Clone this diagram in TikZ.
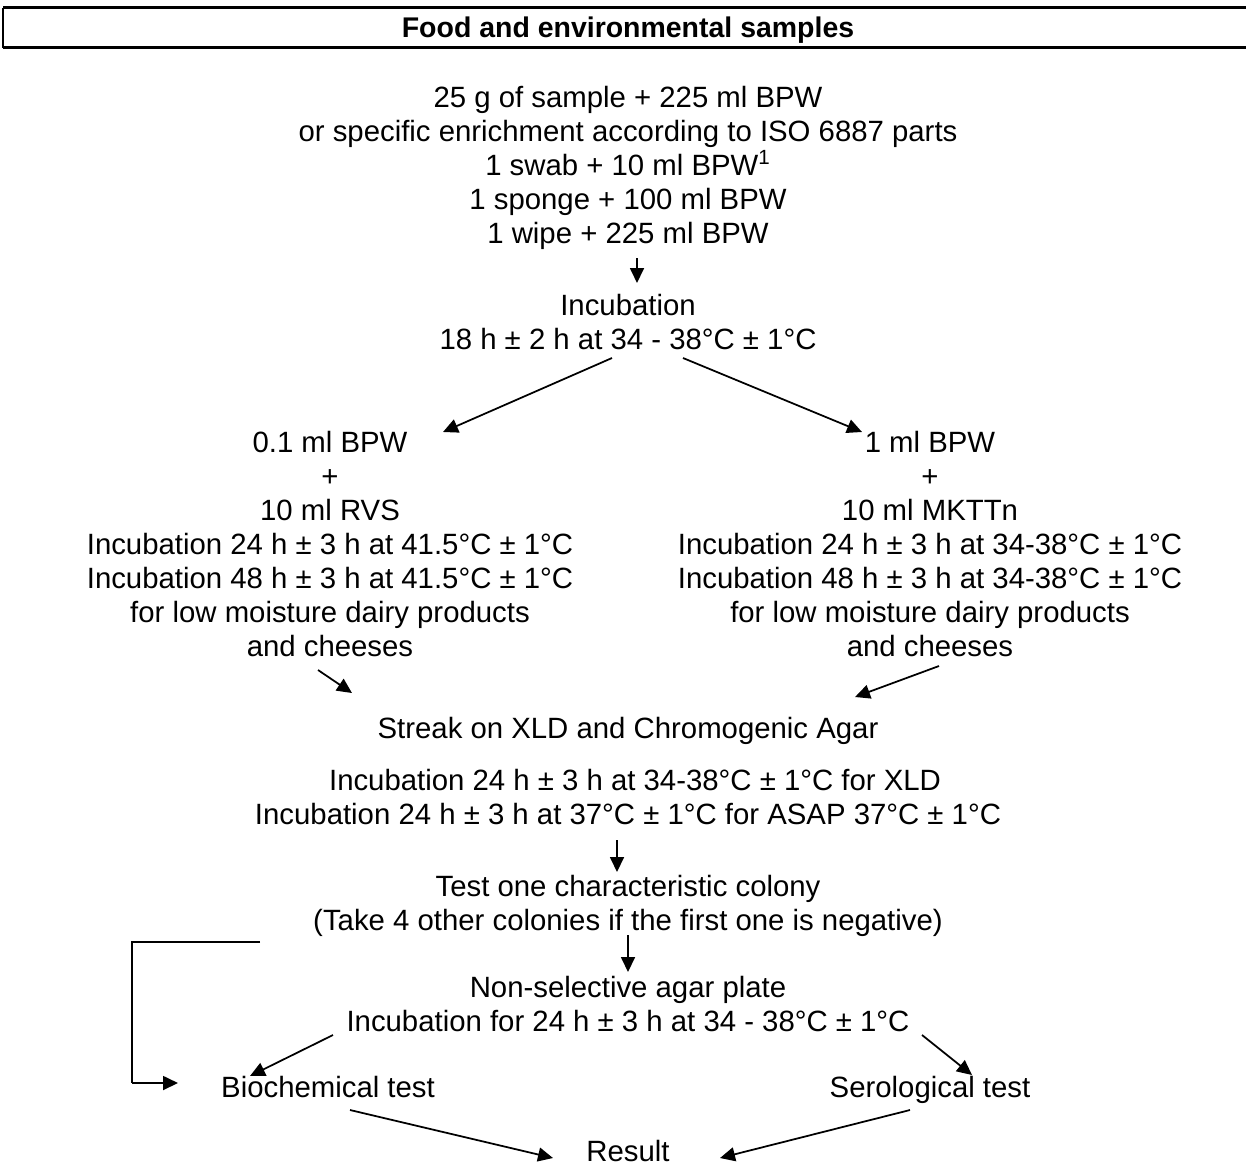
\documentclass[tikz,border=0pt]{standalone}
\usepackage{fontspec}
\setmainfont{Liberation Sans}
\usetikzlibrary{arrows.meta}

\tikzset{
  txt/.style={align=center, inner sep=0pt, font=\fontsize{16.7}{19.35}\selectfont},
  ttl/.style={inner sep=0pt, font=\fontsize{16.2}{18}\selectfont\bfseries},
  arr/.style={-{Triangle[length=0.3cm,width=0.28cm]}, line width=0.035cm},
}

\begin{document}
\begin{tikzpicture}[x=0.02cm,y=-0.02cm]
\useasboundingbox (0,0) rectangle (1246,1166);
% title bar
\draw [line width=0.03cm] (3,8) -- (3,48);
\draw [line width=0.06cm] (3,8) -- (1246,8);
\draw [line width=0.06cm] (3,48) -- (1246,48);
\node [ttl] (title) at (628,30) {Food and environmental samples};

\node [txt] (sample) at (628,168) {25 g of sample + 225 ml BPW\\or specific enrichment according to ISO 6887 parts\\1 swab + 10 ml BPW\textsuperscript{1}\\1 sponge + 100 ml BPW\\1 wipe + 225 ml BPW};
\node [txt] (incub) at (628,322) {Incubation\\18 h ± 2 h at 34 - 38°C ± 1°C};

\node [txt] (rvs) at (330,544) {0.1 ml BPW\\+\\10 ml RVS\\Incubation 24 h ± 3 h at 41.5°C ± 1°C\\Incubation 48 h ± 3 h at 41.5°C ± 1°C\\for low moisture dairy products\\and cheeses};
\node [txt] (mktt) at (930,544) {1 ml BPW\\+\\10 ml MKTTn\\Incubation 24 h ± 3 h at 34-38°C ± 1°C\\Incubation 48 h ± 3 h at 34-38°C ± 1°C\\for low moisture dairy products\\and cheeses};

\node [txt] (streak) at (628,731) {Streak on XLD and Chromogenic Agar};
\node [txt] (plate) at (628,797) {\hspace*{8pt}Incubation 24 h ± 3 h at 34-38°C ± 1°C for XLD\\Incubation 24 h ± 3 h at 37°C ± 1°C for ASAP 37°C ± 1°C};
\node [txt] (colony) at (628,906) {Test one characteristic colony\\(Take 4 other colonies if the first one is negative)};
\node [txt] (agar) at (628,1004) {Non-selective agar plate\\Incubation for 24 h ± 3 h at 34 - 38°C ± 1°C};
\node [txt, anchor=base] (bio) at (328,1097) {Biochemical test};
\node [txt, anchor=base] (sero) at (930,1097) {Serological test};
\node [txt, anchor=base] (result) at (628,1161) {Result};

% arrow ends
\coordinate (s1) at (637,258);  \coordinate (e1) at (637,283);
\coordinate (s2) at (612,358);  \coordinate (e2) at (443,432);
\coordinate (s3) at (683,358);  \coordinate (e3) at (862,432);
\coordinate (s4) at (318,670);  \coordinate (e4) at (352,693);
\coordinate (s5) at (939,666);  \coordinate (e5) at (855,697);
\coordinate (s6) at (617,840);  \coordinate (e6) at (617,872);
\coordinate (s7) at (628,935);  \coordinate (e7) at (628,972);
\coordinate (s8) at (333,1035); \coordinate (e8) at (250,1076);
\coordinate (s9) at (922,1035); \coordinate (e9) at (972,1075);
\coordinate (s10) at (350,1110); \coordinate (e10) at (553,1158);
\coordinate (s11) at (910,1110); \coordinate (e11) at (720,1158);
\coordinate (b1) at (260,942); \coordinate (b2) at (132,942);
\coordinate (b3) at (132,1083); \coordinate (b4) at (178,1083);

\foreach \i in {1,...,11}
  \draw [arr] (s\i) -- (e\i);
\draw [line width=0.03cm] (b1) -- (b2) -- (b3);
\draw [arr] (b3) -- (b4);
\end{tikzpicture}
\end{document}
